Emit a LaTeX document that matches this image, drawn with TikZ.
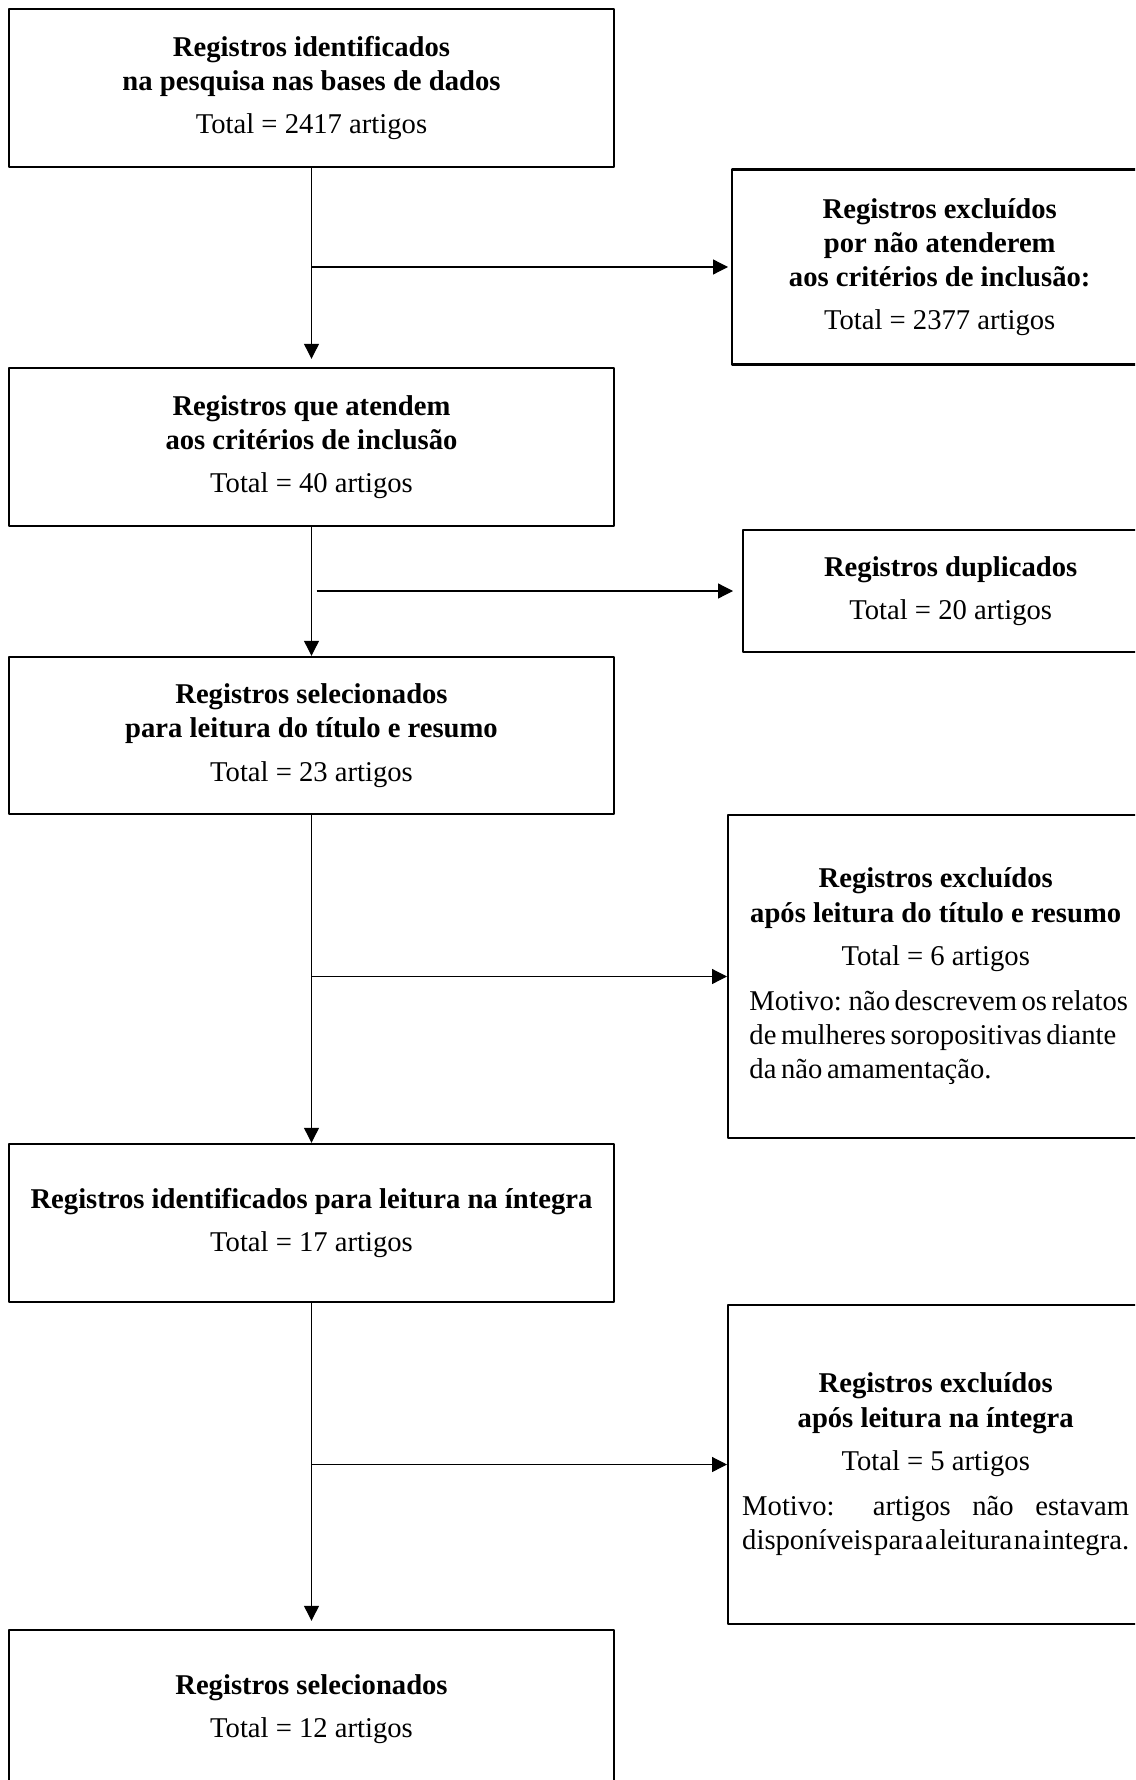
\documentclass[tikz,border=0pt]{standalone}
\usepackage{fontspec}
\setmainfont{Liberation Serif}
\usetikzlibrary{arrows.meta}
\tikzset{
	caixa/.style={draw,line width=1.4pt,rectangle,minimum width=12.1cm,minimum height=3.16cm,inner sep=0pt,align=center,font=\fontsize{16.3}{19.4}\selectfont},
	lateral/.style={caixa,minimum width=8.3cm,anchor=west},
	seta/.style={-{Triangle[length=8.5pt,width=8.5pt]},line width=0.7pt}
}
\begin{document}
\begin{tikzpicture}[x=0.02cm,y=-0.02cm,line join=round]
			\useasboundingbox (0,0) rectangle (1135,1780);
			\clip (0,0) rectangle (1135,1780);
			
			\node[caixa] (r1) at (311.5,88) {\textbf{Registros identificados}\\\textbf{na pesquisa nas bases de dados}\\[5.3pt]Total = 2417 artigos};
			\node[lateral,minimum height=3.9cm] (r2) at (731,267) {\textbf{Registros excluídos}\\\textbf{por não atenderem}\\\textbf{aos critérios de inclusão:}\\[5.3pt]Total = 2377 artigos};
			\node[caixa] (r3) at (311.5,447) {\textbf{Registros que atendem}\\\textbf{aos critérios de inclusão}\\[5.3pt]Total = 40 artigos};
			\node[lateral,minimum height=2.44cm] (r4) at (742,591) {\textbf{Registros duplicados}\\[5.3pt]Total = 20 artigos};
			\node[caixa,minimum height=3.14cm] (r5) at (311.5,735.5) {\textbf{Registros selecionados}\\\textbf{para leitura do título e resumo}\\[5.3pt]Total = 23 artigos};
			\node[lateral,minimum height=6.46cm] (r6) at (727,976.5) {\textbf{Registros excluídos}\\\textbf{após leitura do título e resumo}\\[5.3pt]Total = 6 artigos\\[6.4pt]\parbox[t]{7.45cm}{\spaceskip=2.6pt plus 1pt\makebox[\linewidth][l]{Motivo: não descrevem os relatos}\\\makebox[\linewidth][l]{de mulheres soropositivas diante}\\\makebox[\linewidth][l]{da não amamentação.}}};
			\node[caixa] (r7) at (311.5,1223) {\textbf{Registros identificados para leitura na íntegra}\\[5.3pt]Total = 17 artigos};
			\node[lateral,minimum height=6.38cm] (r8) at (727,1464.5) {\textbf{Registros excluídos}\\\textbf{após leitura na íntegra}\\[5.3pt]Total = 5 artigos\\[6.4pt]\parbox[t]{7.74cm}{\makebox[\linewidth][s]{Motivo: artigos não estavam}\\\spaceskip=0.4pt plus 4pt\makebox[\linewidth][s]{disponíveis para a leitura na integra.}}};
			\node[caixa] (r9) at (311.5,1709) {\textbf{Registros selecionados}\\[5.3pt]Total = 12 artigos};
			
			\draw[seta,shorten >=0.16cm] (r1) -- (r3);
			\draw[seta] (r3) -- (r5);
			\draw[seta] (r5) -- (r7);
			\draw[seta,shorten >=0.16cm] (r7) -- (r9);
			
			\draw[seta,shorten >=0.06cm] (r1.south |- r2.west) -- (r2.west);
			\draw[seta,shorten <=0.1cm,shorten >=0.18cm] (r3.south |- r4.west) -- (r4.west);
			\draw[seta] (r5.south |- r6.west) -- (r6.west);
			\draw[seta] (r7.south |- r8.west) -- (r8.west);
\end{tikzpicture}
\end{document}
